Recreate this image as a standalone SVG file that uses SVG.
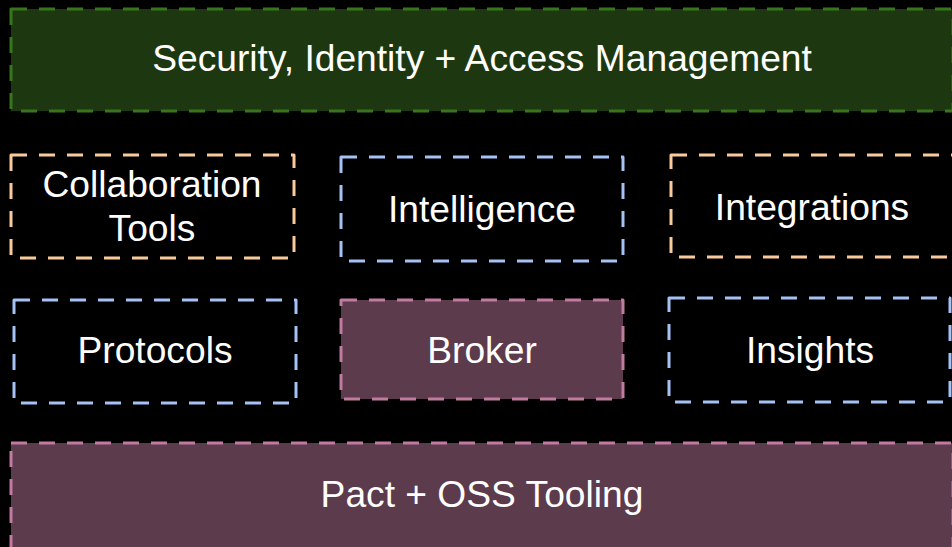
<svg xmlns="http://www.w3.org/2000/svg" width="952" height="547" viewBox="0 0 952 547">
<style>
.box{stroke-width:3;stroke-dasharray:16 12;stroke-linejoin:round}
.green{fill:#1d3811;stroke:#38761d}
.pink{fill:#5c3b4d;stroke:#c27ba0}
.orange{fill:none;stroke:#f9cb9c}
.blue{fill:none;stroke:#a4c2f4}
text{font-family:"Liberation Sans",Arial,sans-serif;font-size:37.2px;fill:#ffffff;text-anchor:middle}
</style>
<rect x="0" y="0" width="952" height="547" fill="#000000"/>
<g id="security">
<rect class="box green" x="11" y="9" width="942" height="102"/>
<text x="482" y="71">Security, Identity + Access Management</text>
</g>
<g id="collaboration">
<rect class="box orange" x="11" y="155" width="283" height="103"/>
<text x="152" y="197">Collaboration</text>
<text x="152" y="241">Tools</text>
</g>
<g id="intelligence">
<rect class="box blue" x="341" y="157" width="282" height="104"/>
<text x="482" y="222">Intelligence</text>
</g>
<g id="integrations">
<rect class="box orange" x="671" y="155" width="283" height="102"/>
<text x="812" y="220">Integrations</text>
</g>
<g id="protocols">
<rect class="box blue" x="14" y="300" width="282" height="103"/>
<text x="155" y="363">Protocols</text>
</g>
<g id="broker">
<rect class="box pink" x="341" y="300" width="282" height="99"/>
<text x="482" y="363">Broker</text>
</g>
<g id="insights">
<rect class="box blue" x="669" y="298" width="281" height="104"/>
<text x="810" y="363">Insights</text>
</g>
<g id="pact">
<rect class="box pink" x="11" y="443" width="942" height="106"/>
<text x="482" y="507">Pact + OSS Tooling</text>
</g>
<g id="connectors"></g>
</svg>
